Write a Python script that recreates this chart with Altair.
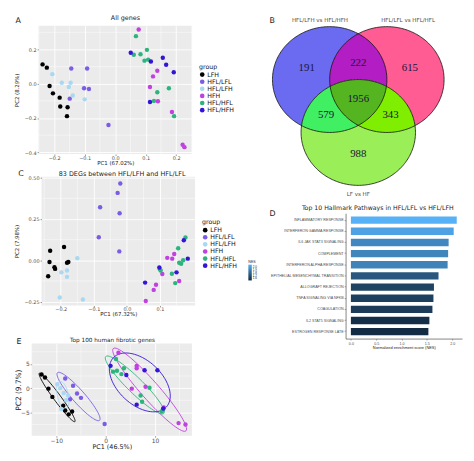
import altair as alt
import numpy as np
import pandas as pd

FONT = "DejaVu Sans"
TXT = "#222222"
LBL = "#4D4D4D"

# ---------------- shared groups ----------------
groups = ["LFH", "HFL/LFL", "HFL/LFH", "HFH", "HFL/HFL", "HFL/HFH"]
group_colors = ["#000000", "#7B5CE5", "#A8D8F2", "#C040E0", "#2DB47D", "#3414D6"]

# ---------------- Panel A : All genes ----------------
a_group = (["LFH"] * 8 + ["HFL/LFL"] * 6 + ["HFL/LFH"] * 6 + ["HFH"] * 8
           + ["HFL/HFL"] * 10 + ["HFL/HFH"] * 6)
a_pc1 = [-0.238, -0.224, -0.215, -0.204, -0.182, -0.180, -0.156, -0.158,
         -0.144, -0.092, -0.102, -0.086, -0.149, -0.022,
         -0.206, -0.175, -0.146, -0.152, -0.139, -0.100,
         0.077, 0.138, 0.124, 0.114, 0.140, 0.186, 0.221, 0.227,
         0.068, 0.061, 0.083, 0.104, 0.096, 0.108, 0.138, 0.176, 0.193, 0.127,
         0.051, 0.117, 0.156, 0.167, 0.192, 0.114]
a_pc2 = [0.113, 0.094, -0.013, -0.056, -0.081, -0.133, -0.137, -0.189,
         0.089, 0.089, -0.026, -0.031, -0.087, -0.241,
         0.056, 0.006, 0.006, -0.019, -0.069, -0.091,
         0.317, 0.076, 0.043, -0.019, -0.102, -0.165, -0.356, -0.370,
         0.278, 0.169, 0.172, 0.198, 0.135, 0.141, -0.050, -0.026, -0.189, -0.100,
         0.181, 0.130, 0.152, 0.111, 0.067, -0.106]
a_xticks = [-0.2, -0.1, 0.0, 0.1, 0.2]
a_yticks = [-0.4, -0.2, 0.0, 0.2]
a_xminor = [-0.25, -0.15, -0.05, 0.05, 0.15, 0.25]
a_yminor = [-0.3, -0.1, 0.1, 0.3]

# ---------------- Panel C : 83 DEGs ----------------
c_group = (["LFH"] * 8 + ["HFL/LFL"] * 6 + ["HFL/LFH"] * 6 + ["HFH"] * 8
           + ["HFL/HFL"] * 9 + ["HFL/HFH"] * 5)
c_pc1 = [-0.232, -0.234, -0.219, -0.217, -0.238, -0.190, -0.181, -0.177,
         -0.020, -0.028, -0.022, -0.081, -0.085, -0.023,
         -0.150, -0.198, -0.181, -0.181, -0.203, -0.133,
         0.122, 0.137, 0.143, 0.107, 0.088, 0.081, 0.057, 0.158,
         0.177, 0.155, 0.158, 0.164, 0.170, 0.100, 0.102, 0.136, 0.146,
         0.172, 0.184, 0.098, 0.150, 0.055]
c_pc2 = [0.058, -0.010, -0.042, -0.052, -0.096, 0.081, -0.015, -0.010,
         0.465, 0.408, 0.285, 0.321, 0.140, 0.054,
         0.013, -0.073, -0.062, -0.100, -0.225, -0.237,
         0.015, 0.010, 0.038, -0.083, -0.148, -0.179, -0.246, -0.125,
         0.138, 0.073, -0.015, -0.021, 0.000, -0.054, -0.062, -0.081, -0.138,
         0.121, 0.010, -0.044, -0.073, -0.135]
c_xticks = [-0.2, -0.1, 0.0, 0.1]
c_yticks = [-0.25, 0.0, 0.25, 0.5]
c_xminor = [-0.25, -0.15, -0.05, 0.05, 0.15]
c_yminor = [-0.125, 0.125, 0.375]

# ---------------- Panel E : Top 100 human fibrotic genes ----------------
e_group = (["LFH"] * 8 + ["HFL/LFL"] * 6 + ["HFL/LFH"] * 6 + ["HFH"] * 8
           + ["HFL/HFL"] * 10 + ["HFL/HFH"] * 6)
e_pc1 = [-13.0, -12.3, -11.6, -10.8, -8.6, -8.2, -7.5, -6.8,
         -8.2, -6.6, -5.8, -5.0, -7.2, -0.2,
         -9.8, -9.2, -8.5, -7.6, -8.0, -9.0,
         2.6, 6.3, 6.3, 5.3, 8.1, 14.8, 16.2, 11.8,
         2.1, 1.5, 2.3, 3.2, 3.7, 8.9, 7.1, 7.4, 11.6, 11.4,
         1.0, 4.2, 7.9, 10.5, 6.3, 11.7]
e_pc2 = [2.8, 2.2, -0.1, -1.8, -3.6, -4.6, -5.4, -4.8,
         2.0, 0.5, -1.1, -2.0, -2.3, -7.4,
         0.8, 0.0, -1.0, -1.5, -2.5, -4.3,
         7.3, 4.6, 4.1, -0.1, 0.3, -7.2, -7.5, -4.0,
         6.0, 3.4, 3.6, 2.9, 4.1, 0.1, -1.5, -2.8, -4.4, -4.8,
         4.6, 2.7, 3.7, 3.7, -3.4, -4.2]
e_xticks = [-10, 0, 10]
e_yticks = [-5, 0, 5]
e_xminor = [-15, -5, 5, 15]
e_yminor = [-7.5, -2.5, 2.5, 7.5]
ELLIPSE_RADIUS = 1.55  # in standard deviations (normal-theory ellipse)

# ---------------- Panel B : Venn ----------------
venn_sets = ["HFL/LFH vs HFL/HFH", "HFL/LFL vs HFL/HFL", "LF vs HF"]
venn_regions = ["100", "110", "010", "101", "111", "011", "001"]
venn_counts = [191, 222, 615, 579, 1956, 343, 988]
venn_region_colors = {"100": "#6B6BF2", "010": "#FF5C94", "001": "#9AEE58",
                      "110": "#B21EC3", "101": "#40F062", "011": "#7FEE00",
                      "111": "#55B520"}
circ_cx = [-0.5, 0.5, 0.0]
circ_cy = [0.5, 0.5, -0.5]
R = 1.0
set_label_x = [-0.67, 0.87, 0.0]
set_label_y = [1.63, 1.63, -1.67]

# ---------------- Panel D : Hallmark pathways ----------------
pathways = ["INFLAMMATORY RESPONSE", "INTERFERON GAMMA RESPONSE",
            "IL6 JAK STAT3 SIGNALING", "COMPLEMENT", "INTERFERON ALPHA RESPONSE",
            "EPITHELIAL MESENCHYMAL TRANSITION", "ALLOGRAFT REJECTION",
            "TNFA SIGNALING VIA NFKB", "COAGULATION", "IL2 STAT5 SIGNALING",
            "ESTROGEN RESPONSE LATE"]
nes = [2.09, 2.03, 1.93, 1.92, 1.91, 1.73, 1.64, 1.63, 1.61, 1.55, 1.53]
nes_ticks = [0.0, 0.5, 1.0, 1.5, 2.0]
nes_legend_ticks = [1.6, 1.7, 1.8, 1.9, 2.0]


def ellipse_df(grp, xs, ys):
    rows = []
    g = np.array(grp)
    xs = np.array(xs, float)
    ys = np.array(ys, float)
    t = np.linspace(0, 2 * np.pi, 73)
    circ = np.column_stack([np.cos(t), np.sin(t)])
    for name in groups:
        m = g == name
        pts = np.column_stack([xs[m], ys[m]])
        loc = pts.mean(0)
        L = np.linalg.cholesky(np.cov(pts.T))
        e = loc + ELLIPSE_RADIUS * circ @ L.T
        for k, (ex, ey) in enumerate(e):
            rows.append({"group": name, "ex": ex, "ey": ey, "k": k})
    return pd.DataFrame(rows)


def text_layer(txt, x, y, size, align="left", font=FONT, color=TXT):
    return alt.Chart(pd.DataFrame({"t": [txt]})).mark_text(
        font=font, fontSize=size, align=align, baseline="middle", color=color).encode(
        x=alt.value(x), y=alt.value(y), text="t:N")


def pad_rule(y):
    return alt.Chart(pd.DataFrame({"t": [0]})).mark_rule(
        color="white", strokeWidth=0.1).encode(
        x=alt.value(0), x2=alt.value(2), y=alt.value(y), y2=alt.value(y))


def spacer(w):
    return alt.Chart(pd.DataFrame({"t": [0]})).mark_rule(
        color="white", strokeWidth=0.1).encode(
        x=alt.value(0), x2=alt.value(w), y=alt.value(0), y2=alt.value(0)
    ).properties(width=w, height=1)


def pca_panel(grp, pc1, pc2, *, xdom, ydom, xticks, yticks, xminor, yminor,
              xfmt, yfmt, width, height, heading, heading_size, heading_x, heading_y,
              xtitle, ytitle, xtitle_size, ytitle_size, tick_size,
              letter, letter_x, letter_y, legend_title, legend_x, legend_y,
              ellipses=False, top_pad=None, ytitle_pad=5):
    df = pd.DataFrame({"group": grp, "pc1": pc1, "pc2": pc2})
    xscale = alt.Scale(domain=xdom, nice=False, zero=False)
    yscale = alt.Scale(domain=ydom, nice=False, zero=False)
    common = dict(grid=True, gridColor="white", gridWidth=0.9, domain=False,
                  tickSize=1.5, tickColor="#333333", tickWidth=0.5,
                  labelFontSize=tick_size, labelColor=LBL, labelFont=FONT,
                  titleFont=FONT, titleFontWeight="normal", titleColor=TXT)
    xaxis = alt.Axis(values=xticks, format=xfmt, title=xtitle, labelPadding=0,
                     titleFontSize=xtitle_size, titlePadding=0, **common)
    yaxis = alt.Axis(values=yticks, format=yfmt, title=ytitle, labelPadding=1,
                     titleFontSize=ytitle_size, titlePadding=ytitle_pad, **common)

    def X(f):
        return alt.X(f, type="quantitative", scale=xscale, axis=xaxis)

    def Y(f):
        return alt.Y(f, type="quantitative", scale=yscale, axis=yaxis)

    cscale = alt.Scale(domain=groups, range=group_colors)
    layers = []
    layers.append(alt.Chart(pd.DataFrame({"v": xminor})).mark_rule(
        color="white", strokeWidth=0.45, clip=True).encode(x=X("v")))
    layers.append(alt.Chart(pd.DataFrame({"v": yminor})).mark_rule(
        color="white", strokeWidth=0.45, clip=True).encode(y=Y("v")))
    if ellipses:
        edf = ellipse_df(grp, pc1, pc2)
        layers.append(alt.Chart(edf).mark_line(strokeWidth=0.9, clip=True).encode(
            x=X("ex"), y=Y("ey"),
            color=alt.Color("group:N", scale=cscale, legend=None),
            detail="group:N", order="k:Q"))
    layers.append(alt.Chart(df).mark_circle(size=20, opacity=1).encode(
        x=X("pc1"), y=Y("pc2"),
        color=alt.Color("group:N", scale=cscale, legend=alt.Legend(
            title=legend_title, orient="none", legendX=legend_x, legendY=legend_y,
            titleFont=FONT, labelFont=FONT, titleFontSize=6.3, labelFontSize=6.3,
            titleFontWeight="normal", titleColor="#111111", labelColor="#111111",
            symbolType="circle", symbolSize=22, symbolStrokeWidth=0,
            rowPadding=0.2, titlePadding=1.5, labelOffset=2, padding=0))))
    layers.append(text_layer(letter, letter_x, letter_y, 8))
    layers.append(text_layer(heading, heading_x, heading_y, heading_size, align="center"))
    if top_pad is not None:
        layers.append(pad_rule(top_pad))
    return alt.layer(*layers).properties(
        width=width, height=height,
        view=alt.ViewBackground(fill="#EBEBEB", strokeWidth=0))


chart_a = pca_panel(a_group, a_pc1, a_pc2, xdom=[-0.251, 0.252], ydom=[-0.41, 0.339],
                    xticks=a_xticks, yticks=a_yticks, xminor=a_xminor, yminor=a_yminor,
                    xfmt=".1f", yfmt=".1f", width=155.5, height=130,
                    heading="All genes", heading_size=6.5, heading_x=88, heading_y=-8.1,
                    xtitle="PC1 (67.02%)", ytitle="PC2 (8.29%)", xtitle_size=5.5,
                    ytitle_size=5.5, tick_size=5, letter="A", letter_x=-23.5,
                    letter_y=-4.8, legend_title="group", legend_x=162.6, legend_y=38.6,
                    top_pad=-14.5)

chart_c = pca_panel(c_group, c_pc1, c_pc2, xdom=[-0.258, 0.206], ydom=[-0.273, 0.506],
                    xticks=c_xticks, yticks=c_yticks, xminor=c_xminor, yminor=c_yminor,
                    xfmt=".1f", yfmt=".2f", width=155.5, height=130.4,
                    heading="83 DEGs between HFL/LFH and HFL/LFL", heading_size=6.5,
                    heading_x=81.6, heading_y=-3.1,
                    xtitle="PC1 (67.32%)", ytitle="PC2 (7.98%)", xtitle_size=5.5,
                    ytitle_size=5.5, tick_size=5, letter="C", letter_x=-23.5,
                    letter_y=-3.2, legend_title="group", legend_x=162.6, legend_y=43.2)

chart_e = pca_panel(e_group, e_pc1, e_pc2, xdom=[-15.0, 17.5], ydom=[-9.8, 9.2],
                    xticks=e_xticks, yticks=e_yticks, xminor=e_xminor, yminor=e_yminor,
                    xfmt="d", yfmt="d", width=162.3, height=93.4,
                    heading="Top 100 human fibrotic genes", heading_size=5.8,
                    heading_x=81.9, heading_y=-3.9,
                    xtitle="PC1 (46.5%)", ytitle="PC2 (9.7%)", xtitle_size=6.5,
                    ytitle_size=7.5, tick_size=6, letter="E", letter_x=-15.5,
                    letter_y=-1.6, legend_title="groups", legend_x=169.7, legend_y=23.9,
                    ellipses=True, top_pad=-22.3, ytitle_pad=-2)

# ---------------- Venn ----------------
vx_scale = alt.Scale(domain=[-0.222, 1.883], nice=False, zero=False)
vy_scale = alt.Scale(domain=[-1.756, 1.518], nice=False, zero=False)


def VX(f):
    return alt.X(f, type="quantitative", scale=vx_scale, axis=None)


def VY(f):
    return alt.Y(f, type="quantitative", scale=vy_scale, axis=None)


xs = np.linspace(-1.6, 1.6, 1281)


def shape_df(idx):
    lo = np.full_like(xs, -np.inf)
    hi = np.full_like(xs, np.inf)
    ok = np.ones_like(xs, bool)
    for i in idx:
        d = xs - circ_cx[i]
        inside = np.abs(d) <= R + 1e-9
        half = np.sqrt(np.clip(R ** 2 - d ** 2, 0, None))
        lo = np.maximum(lo, circ_cy[i] - half)
        hi = np.minimum(hi, circ_cy[i] + half)
        ok &= inside
    ok &= hi >= lo
    return pd.DataFrame({"x": xs[ok], "lo": lo[ok], "hi": hi[ok]})


shapes = [([0], "100"), ([1], "010"), ([2], "001"), ([0, 1], "110"),
          ([0, 2], "101"), ([1, 2], "011"), ([0, 1, 2], "111")]
venn_layers = []
for idx, code in shapes:
    venn_layers.append(alt.Chart(shape_df(idx)).mark_area(
        color=venn_region_colors[code], opacity=1, orient="vertical").encode(
        x=VX("x"), y=VY("lo"), y2="hi:Q"))

tt = np.linspace(0, 2 * np.pi, 241)
outline = pd.DataFrame([{"s": i, "k": k, "x": circ_cx[i] + R * np.cos(a),
                         "y": circ_cy[i] + R * np.sin(a)}
                        for i in range(3) for k, a in enumerate(tt)])
venn_layers.append(alt.Chart(outline).mark_line(color="#111111", strokeWidth=0.8).encode(
    x=VX("x"), y=VY("y"), detail="s:N", order="k:Q"))

gx, gy = np.meshgrid(np.linspace(-1.6, 1.6, 321), np.linspace(-1.6, 1.6, 321))
ins = [((gx - cx) ** 2 + (gy - cy) ** 2 <= R ** 2) for cx, cy in zip(circ_cx, circ_cy)]
lx, ly = [], []
for code in venn_regions:
    m = np.ones_like(gx, bool)
    for i, ch in enumerate(code):
        m &= ins[i] if ch == "1" else ~ins[i]
    lx.append(gx[m].mean())
    ly.append(gy[m].mean())
num_df = pd.DataFrame({"x": lx, "y": ly, "n": [str(c) for c in venn_counts]})
venn_layers.append(alt.Chart(num_df).mark_text(
    font="Liberation Serif", fontSize=11, color="#16163A").encode(
    x=VX("x"), y=VY("y"), text="n:N"))
setlab_df = pd.DataFrame({"x": set_label_x, "y": set_label_y, "t": venn_sets})
venn_layers.append(alt.Chart(setlab_df).mark_text(
    font=FONT, fontSize=5.6, color="#4A4A4A").encode(
    x=VX("x"), y=VY("y"), text="t:N"))
venn_layers.append(text_layer("B", -77, -4.8, 8))
chart_b = alt.layer(*venn_layers).properties(width=122, height=175.5)

# ---------------- Panel D ----------------
d_df = pd.DataFrame({"pathway": pathways, "nes": nes})
d_bars = alt.Chart(d_df).mark_bar().encode(
    y=alt.Y("pathway:N", sort=pathways,
            scale=alt.Scale(paddingInner=0.34, paddingOuter=0.29),
            axis=alt.Axis(title=None, labelFont="Liberation Sans", labelFontSize=3.7,
                          labelColor=LBL, labelPadding=1, tickSize=1.5, tickWidth=0.4,
                          tickColor="#333333", domainColor="#333333", domainWidth=0.6,
                          labelLimit=300)),
    x=alt.X("nes:Q", scale=alt.Scale(domain=[-0.105, 2.195], nice=False, zero=False),
            axis=alt.Axis(values=nes_ticks, format=".1f",
                          title="Normalized enrichment score (NES)", grid=False,
                          labelFont="Liberation Sans", labelFontSize=3.7, labelColor=LBL,
                          labelPadding=1, tickSize=1.5, tickWidth=0.4, tickColor="#333333",
                          domainColor="#333333", domainWidth=0.6,
                          titleFont="Liberation Sans", titleFontSize=4,
                          titleFontWeight="normal", titleColor=TXT, titlePadding=1)),
    x2=alt.datum(0),
    color=alt.Color("nes:Q",
                    scale=alt.Scale(domain=[1.53, 2.09], range=["#132B43", "#56B1F7"],
                                    interpolate="lab"),
                    legend=alt.Legend(title="NES", orient="none", legendX=-98.5,
                                      legendY=47.5, gradientLength=16,
                                      gradientThickness=3.5, values=nes_legend_ticks,
                                      format=".1f", labelOverlap=False,
                                      titleFont="Liberation Sans", titleFontSize=3.6,
                                      titleFontWeight="normal", titleColor=TXT,
                                      labelFont="Liberation Sans", labelFontSize=3,
                                      labelColor=TXT, titlePadding=1, labelOffset=1,
                                      padding=0, direction="vertical")),
)
chart_d = alt.layer(
    d_bars,
    text_layer("D", -77, 0.9, 8),
    text_layer("Top 10 Hallmark Pathways in HFL/LFL vs HFL/LFH", 32.6, -5.6, 6.3,
               align="center"),
).properties(width=118, height=127)

# ---------------- layout ----------------
left = alt.concat(spacer(4), chart_a, spacer(4), chart_c, spacer(4), chart_e,
                  columns=2, spacing={"row": 3, "column": 0},
                  align="none").resolve_scale(color="independent")
right = alt.concat(chart_b, chart_d, columns=1, spacing=5,
                   align="none").resolve_scale(color="independent")
chart = (alt.concat(left, right, columns=2, spacing=10, align="none")
         .resolve_scale(color="independent")
         .properties(padding=0)
         .configure_view(strokeWidth=0))

chart.save("out.html", embed_options={"renderer": "svg", "actions": False})
